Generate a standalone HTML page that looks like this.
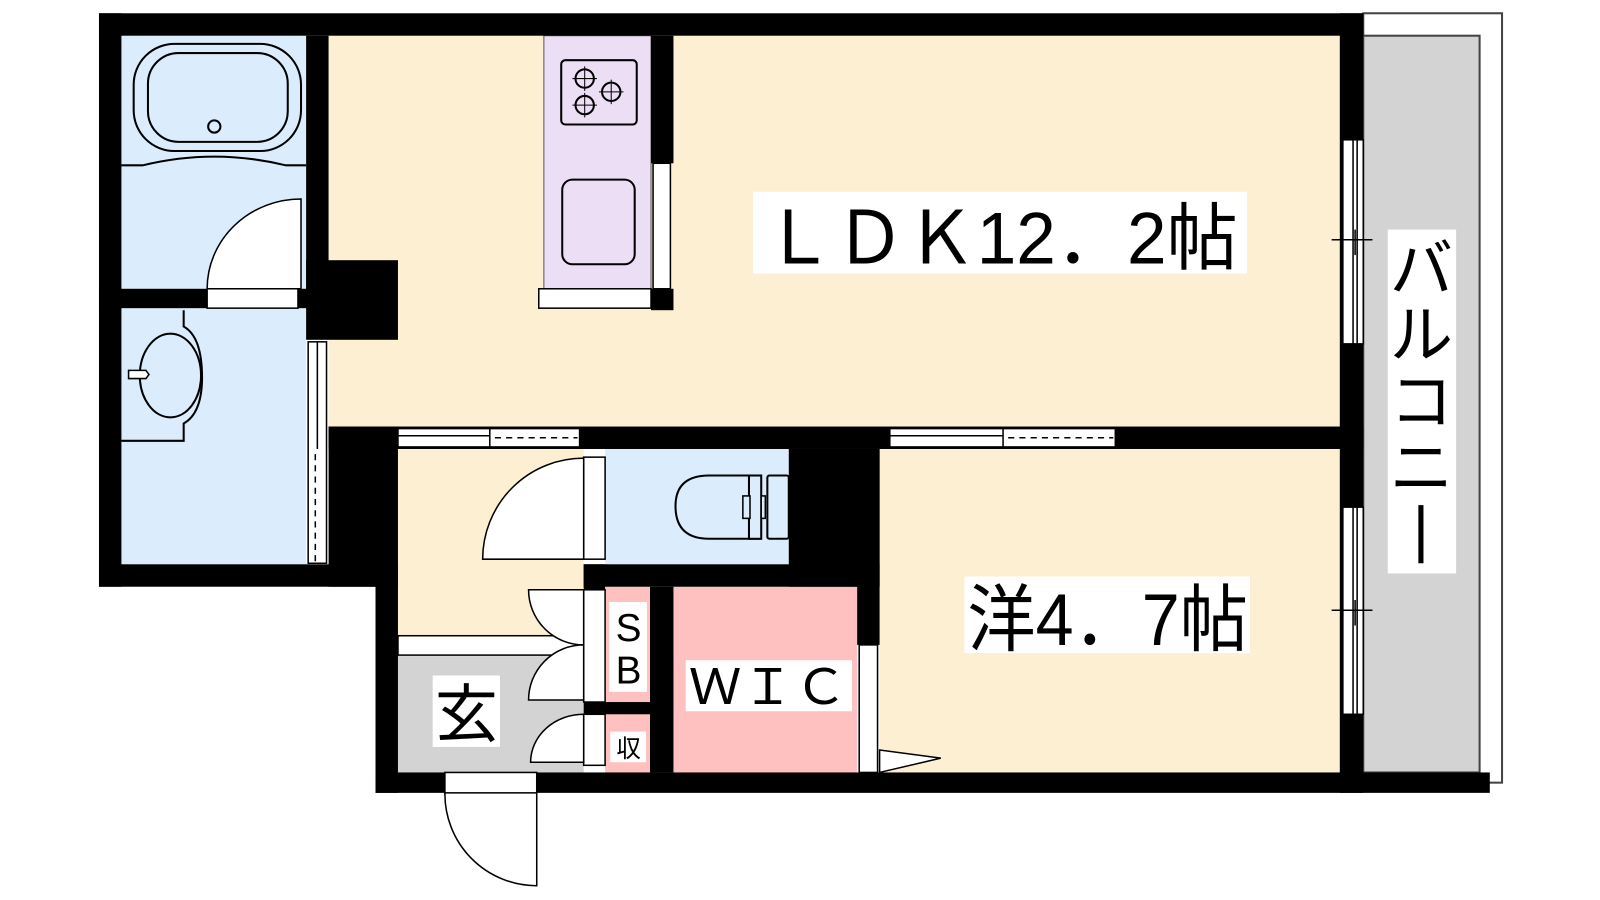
<!DOCTYPE html>
<html><head><meta charset="utf-8"><style>
html,body{margin:0;padding:0;background:#fff;width:1600px;height:900px;overflow:hidden}
svg{display:block}
text{font-family:"Liberation Sans","Noto Sans CJK JP",sans-serif;fill:#000}
</style></head><body>
<svg width="1600" height="900" viewBox="0 0 1568 882" xmlns="http://www.w3.org/2000/svg">
<rect x="1336" y="13" width="136" height="754" fill="#fff" stroke="#444" stroke-width="2"/>
<rect x="1336" y="35" width="114" height="722" fill="#d3d3d3" stroke="#444" stroke-width="2"/>
<rect x="322" y="35" width="991" height="383" fill="#fdf0d2"/>
<rect x="533" y="35" width="105" height="248" fill="#ecdff5" stroke="#555" stroke-width="1"/>
<rect x="119" y="35" width="181" height="248" fill="#dbecfd"/>
<rect x="119" y="302" width="181" height="251" fill="#dbecfd"/>
<rect x="862" y="440" width="451" height="317" fill="#fdf0d2"/>
<rect x="390" y="440" width="182" height="183" fill="#fdf0d2"/>
<rect x="390" y="643" width="182" height="114" fill="#d3d3d3"/>
<rect x="390" y="623" width="182" height="19" fill="#fff" stroke="#000" stroke-width="1.5"/>
<rect x="593" y="440" width="180" height="113" fill="#dbecfd"/>
<rect x="593" y="575" width="44" height="113" fill="#ffc0c0"/>
<rect x="593" y="700" width="44" height="57" fill="#ffc0c0"/>
<rect x="660" y="575" width="180" height="182" fill="#ffc0c0"/>
<g fill="#000">
<rect x="97" y="13" width="1239" height="22"/>
<rect x="97" y="13" width="22" height="562"/>
<rect x="97" y="553" width="293" height="22"/>
<rect x="97" y="283" width="225" height="19"/>
<rect x="300" y="35" width="22" height="267"/>
<rect x="300" y="255" width="90" height="78"/>
<rect x="322" y="418" width="1014" height="22"/>
<rect x="322" y="418" width="68" height="157"/>
<rect x="368" y="553" width="22" height="224"/>
<rect x="368" y="757" width="1092" height="20"/>
<rect x="1313" y="13" width="23" height="764"/>
<rect x="638" y="35" width="22" height="125"/>
<rect x="638" y="283" width="22" height="21"/>
<rect x="773" y="440" width="89" height="135"/>
<rect x="572" y="553" width="290" height="22"/>
<rect x="572" y="553" width="21" height="25"/>
<rect x="572" y="688" width="65" height="12"/>
<rect x="637" y="575" width="23" height="182"/>
<rect x="840" y="440" width="22" height="192"/>
</g>
<g fill="#fff" stroke="#000" stroke-width="1.5">
<rect x="640" y="160" width="17" height="123"/>
<rect x="528" y="283" width="110" height="19"/>
<rect x="203" y="283" width="89" height="19"/>
<rect x="302" y="335" width="18" height="217"/>
<rect x="1316" y="137" width="20" height="200"/>
<rect x="1316" y="497" width="20" height="203"/>
<rect x="390" y="420" width="178" height="18"/>
<rect x="872" y="420" width="221" height="18"/>
<rect x="572" y="448" width="21" height="100"/>
<rect x="572" y="578" width="21" height="110"/>
<rect x="572" y="700" width="21" height="50"/>
<rect x="842" y="632" width="18" height="125"/>
<rect x="436" y="757" width="90" height="20"/>
<path d="M295 195 V283 H203 A92 88 0 0 1 295 195 Z"/>
<path d="M572 449 V548 H473 A99 99 0 0 1 572 449 Z"/>
<path d="M518 578 H572 V632 A54 54 0 0 1 518 578 Z"/>
<path d="M518 686 H572 V632 A54 54 0 0 0 518 686 Z"/>
<path d="M520 747 H572 V700 A52 47 0 0 0 520 747 Z"/>
<path d="M862 735 L922 743 L862 757 Z"/>
<path d="M436 777 A90 90 0 0 0 526 868 V777" fill="none"/>
</g>
<g stroke="#000" stroke-width="1.5" fill="none">
<line x1="390" y1="427" x2="480" y2="427"/><line x1="480" y1="420" x2="480" y2="438"/>
<line x1="485" y1="429" x2="566" y2="429" stroke-dasharray="6,5"/>
<line x1="872" y1="427" x2="983" y2="427"/><line x1="983" y1="420" x2="983" y2="438"/>
<line x1="988" y1="429" x2="1091" y2="429" stroke-dasharray="6,5"/>
<line x1="311" y1="335" x2="311" y2="440"/>
<line x1="309" y1="445" x2="309" y2="550" stroke-dasharray="6,5"/>
<line x1="1326" y1="137" x2="1326" y2="337"/><line x1="1330" y1="137" x2="1330" y2="337"/>
<line x1="1305" y1="235" x2="1345" y2="235"/><line x1="1328" y1="225" x2="1328" y2="250"/>
<line x1="1326" y1="497" x2="1326" y2="700"/><line x1="1330" y1="497" x2="1330" y2="700"/>
<line x1="1305" y1="598" x2="1345" y2="598"/><line x1="1328" y1="588" x2="1328" y2="613"/>
<rect x="131" y="43" width="164" height="105" rx="40" stroke-width="2"/>
<rect x="145" y="52" width="137" height="87" rx="30" stroke-width="2"/>
<circle cx="210" cy="124" r="6" stroke-width="2"/>
<path d="M119 162 L140 162 Q210 145 280 162 L300 162" stroke-width="2"/>
<path d="M119 432 H180 V415 Q198 405 198 370 Q198 330 180 320 V304" stroke-width="2"/>
<ellipse cx="167" cy="368" rx="30" ry="41" stroke-width="2"/>
<path d="M126 363 H143 L146 367 L143 371 H126 Z" fill="#fff" stroke-width="1.5"/>
<rect x="550" y="59" width="74" height="63" rx="4" stroke-width="2"/>
<circle cx="573" cy="77" r="9" stroke-width="2"/><circle cx="573" cy="103" r="9" stroke-width="2"/><circle cx="599" cy="90" r="9" stroke-width="2"/>
<path d="M573 65v24M561 77h24M573 91v24M561 103h24M599 78v24M587 90h24" stroke-width="1"/>
<rect x="551" y="176" width="71" height="83" rx="10" stroke-width="2"/>
<path d="M745 466 H695 Q662 466 662 496 Q662 528 695 528 H745 Z" fill="#dbecfd" stroke-width="2"/>
<rect x="734" y="466" width="12" height="62" fill="#dbecfd" stroke-width="2"/>
<rect x="728" y="486" width="7" height="22" fill="#dbecfd" stroke-width="1.5"/>
<rect x="746" y="486" width="4" height="22" fill="#dbecfd" stroke-width="1.5"/>
<rect x="752" y="466" width="21" height="62" rx="2" fill="#dbecfd" stroke-width="2"/>
</g>
<rect x="738" y="188" width="484" height="80" fill="#fff"/>
<text x="748" y="258" font-size="72" textLength="465" lengthAdjust="spacingAndGlyphs">ＬＤＫ12．2帖</text>
<rect x="945" y="565" width="280" height="75" fill="#fff"/>
<text x="948" y="632" font-size="72" textLength="275" lengthAdjust="spacingAndGlyphs">洋4．7帖</text>
<rect x="1360" y="225" width="67" height="337" fill="#fff"/>
<text x="1393" y="285" font-size="62" text-anchor="middle">バ</text>
<text x="1393" y="350" font-size="62" text-anchor="middle">ル</text>
<text x="1393" y="415" font-size="62" text-anchor="middle">コ</text>
<text x="1393" y="480" font-size="62" text-anchor="middle">ニ</text>
<rect x="1390" y="495" width="5" height="57" fill="#000"/>
<rect x="597" y="590" width="37" height="88" fill="#fff"/>
<text x="616" y="628" font-size="38" text-anchor="middle">S</text>
<text x="616" y="670" font-size="38" text-anchor="middle">B</text>
<rect x="598" y="717" width="35" height="30" fill="#fff"/>
<text x="616" y="742" font-size="24" text-anchor="middle">収</text>
<rect x="672" y="647" width="163" height="50" fill="#fff"/>
<text x="675" y="690" font-size="48" textLength="155" lengthAdjust="spacingAndGlyphs">ＷＩＣ</text>
<rect x="424" y="662" width="66" height="70" fill="#fff"/>
<text x="457" y="722" font-size="62" text-anchor="middle">玄</text>
</svg>
</body></html>
